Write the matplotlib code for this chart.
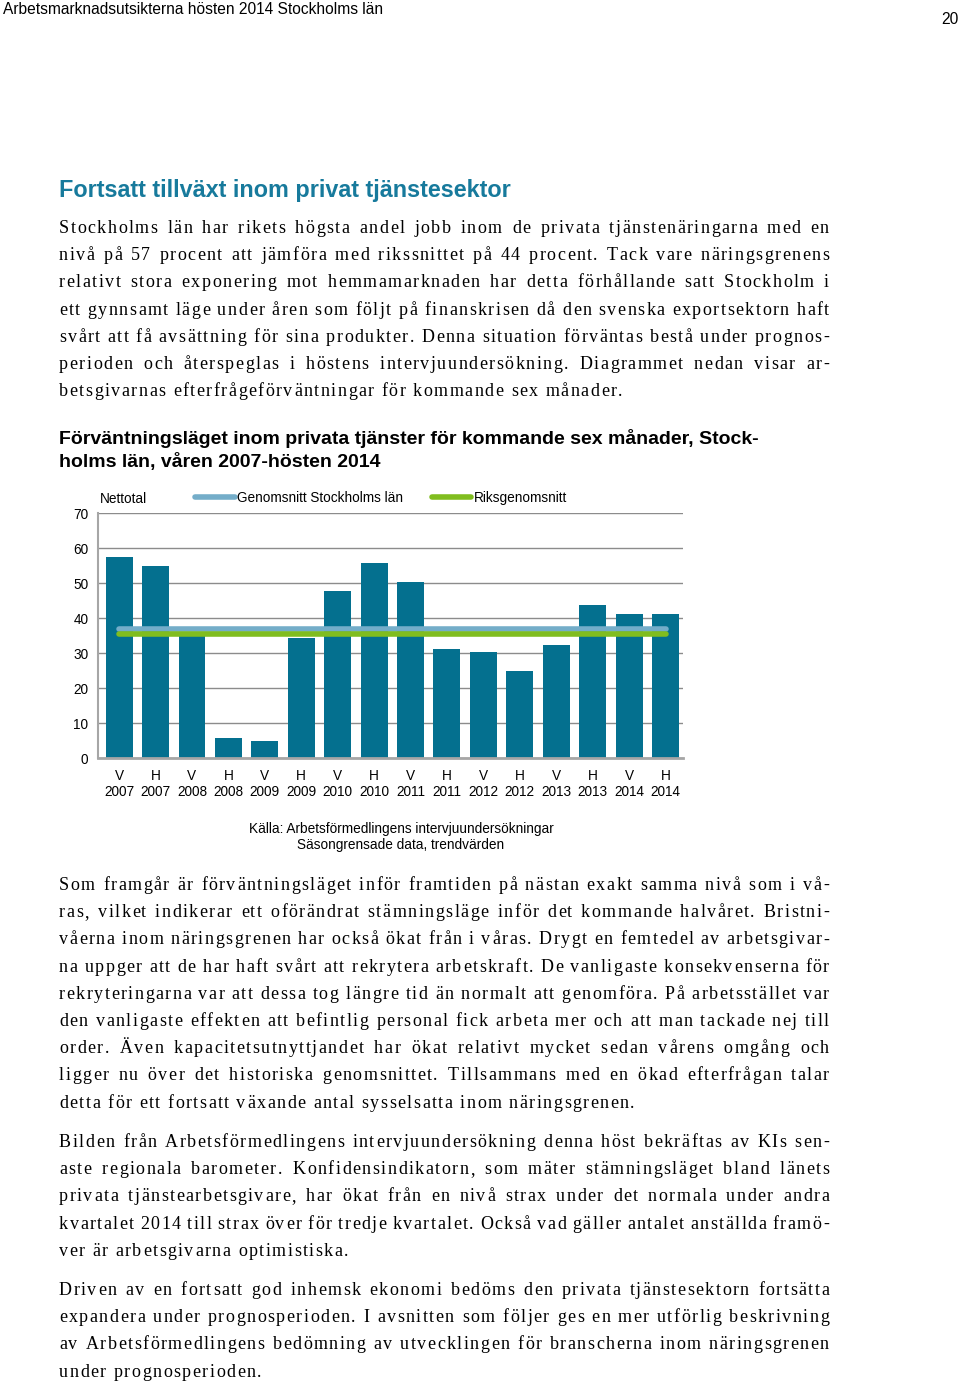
import matplotlib

matplotlib.use("Agg")
import matplotlib.pyplot as plt
from matplotlib import font_manager
from matplotlib.ft2font import FT2Font

W, H = 960, 1382

# chart data
halvar = ["V", "H"] * 8
ar = [str(y) for y in range(2007, 2015) for _ in range(2)]
nettotal = [57.5, 54.9, 36.0, 5.8, 4.8, 34.4, 47.6, 55.8,
            50.4, 31.1, 30.3, 24.9, 32.3, 43.7, 41.2, 41.2]
snitt_sthlm = 36.9
snitt_riket = 35.4

header = "Arbetsmarknadsutsikterna hösten 2014 Stockholms län"
page_no = "20"
heading = "Fortsatt tillväxt inom privat tjänstesektor"
chart_title = [
    "Förväntningsläget inom privata tjänster för kommande sex månader, Stock-",
    "holms län, våren 2007-hösten 2014",
]
source = ["Källa: Arbetsförmedlingens intervjuundersökningar",
          "Säsongrensade data, trendvärden"]

para1 = [
    "Stockholms län har rikets högsta andel jobb inom de privata tjänstenäringarna med en",
    "nivå på 57 procent att jämföra med rikssnittet på 44 procent. Tack vare näringsgrenens",
    "relativt stora exponering mot hemmamarknaden har detta förhållande satt Stockholm i",
    "ett gynnsamt läge under åren som följt på finanskrisen då den svenska exportsektorn haft",
    "svårt att få avsättning för sina produkter. Denna situation förväntas bestå under prognos-",
    "perioden och återspeglas i höstens intervjuundersökning. Diagrammet nedan visar ar-",
    "betsgivarnas efterfrågeförväntningar för kommande sex månader.",
]
para2 = [
    "Som framgår är förväntningsläget inför framtiden på nästan exakt samma nivå som i vå-",
    "ras, vilket indikerar ett oförändrat stämningsläge inför det kommande halvåret. Bristni-",
    "våerna inom näringsgrenen har också ökat från i våras. Drygt en femtedel av arbetsgivar-",
    "na uppger att de har haft svårt att rekrytera arbetskraft. De vanligaste konsekvenserna för",
    "rekryteringarna var att dessa tog längre tid än normalt att genomföra. På arbetsstället var",
    "den vanligaste effekten att befintlig personal fick arbeta mer och att man tackade nej till",
    "order. Även kapacitetsutnyttjandet har ökat relativt mycket sedan vårens omgång och",
    "ligger nu över det historiska genomsnittet. Tillsammans med en ökad efterfrågan talar",
    "detta för ett fortsatt växande antal sysselsatta inom näringsgrenen.",
]
para3 = [
    "Bilden från Arbetsförmedlingens intervjuundersökning denna höst bekräftas av KIs sen-",
    "aste regionala barometer. Konfidensindikatorn, som mäter stämningsläget bland länets",
    "privata tjänstearbetsgivare, har ökat från en nivå strax under det normala under andra",
    "kvartalet 2014 till strax över för tredje kvartalet. Också vad gäller antalet anställda framö-",
    "ver är arbetsgivarna optimistiska.",
]
para4 = [
    "Driven av en fortsatt god inhemsk ekonomi bedöms den privata tjänstesektorn fortsätta",
    "expandera under prognosperioden. I avsnitten som följer ges en mer utförlig beskrivning",
    "av Arbetsförmedlingens bedömning av utvecklingen för branscherna inom näringsgrenen",
    "under prognosperioden.",
]

BAR = "#04708f"
STHLM = "#74adc9"
RIKS = "#80bd1f"
BLUE_HEAD = "#177a9c"

fig = plt.figure(figsize=(W / 100, H / 100), dpi=100)


def fx(x):
    return x / W


def fy(y):
    return 1 - y / H


sans = ["Liberation Sans", "DejaVu Sans"]
serif = ["Liberation Serif", "DejaVu Serif"]

fig.text(fx(3), fy(9), header, family=sans, fontsize=11.2, va="center", ha="left")
fig.text(fx(959), fy(19), page_no, family=sans, fontsize=11.2, va="center", ha="right")
fig.text(fx(59), fy(191), heading, family=sans, fontsize=16.8, weight="bold",
         color=BLUE_HEAD, va="center", ha="left")
for i, line in enumerate(chart_title):
    fig.text(fx(59), fy(439 + 23 * i), line, family=sans, fontsize=14,
             weight="bold", va="center", ha="left")
for i, line in enumerate(source):
    fig.text(fx(401), fy(829 + 16 * i), line, family=sans, fontsize=9.8,
             va="center", ha="center")

# body text: letter-spaced, justified serif like the report
BODY_SIZE = 13
TRACK = 1.5
font = FT2Font(font_manager.findfont(font_manager.FontProperties(family=serif)))
font.set_size(BODY_SIZE, 100)
advances = {}


def adv(c):
    if c not in advances:
        advances[c] = font.load_char(ord(c)).linearHoriAdvance / 65536
    return advances[c]


def word_width(w):
    return sum(adv(c) for c in w) + TRACK * (len(w) - 1)


def paragraph(lines, y0, x0=59, x1=829, step=27.2):
    sw = adv(" ") + 2 * TRACK
    for i, line in enumerate(lines):
        y = fy(y0 + step * i)
        words = line.split(" ")
        widths = [word_width(w) for w in words]
        if i == len(lines) - 1 or len(words) == 1:
            gap = sw
        else:
            gap = (x1 - x0 - sum(widths)) / (len(words) - 1)
        x = x0
        for w, ww in zip(words, widths):
            cx = x
            for c in w:
                fig.text(fx(cx), y, c, family=serif, fontsize=BODY_SIZE,
                         va="baseline", ha="left")
                cx += adv(c) + TRACK
            x += ww + gap


paragraph(para1, 233)
paragraph(para2, 890)
paragraph(para3, 1147)
paragraph(para4, 1295)

# chart
ax = fig.add_axes([fx(98), fy(758), fx(683) - fx(98), fy(513) - fy(758)])
x = list(range(len(nettotal)))
ax.bar(x, nettotal, width=0.74, color=BAR, zorder=2)
l1, = ax.plot([0, 15], [snitt_sthlm] * 2, color=STHLM, lw=4, zorder=3,
              solid_capstyle="round", label="Genomsnitt Stockholms län")
l2, = ax.plot([0, 15], [snitt_riket] * 2, color=RIKS, lw=4, zorder=3,
              solid_capstyle="round", label="Riksgenomsnitt")
ax.set_xlim(-0.58, 15.48)
ax.set_ylim(0, 70)
ax.set_yticks(range(0, 71, 10))
ax.set_xticks(x)
ax.set_xticklabels([f"{h}\n{a}" for h, a in zip(halvar, ar)], linespacing=1.15)
ax.tick_params(length=0, labelsize=9.8)
ax.tick_params(axis="x", pad=8)
ax.tick_params(axis="y", pad=7)
for lab in ax.get_xticklabels() + ax.get_yticklabels():
    lab.set_family(sans)
ax.grid(axis="y", color="#8c8c8c", lw=1, zorder=0)
ax.set_axisbelow(True)
for s in ["top", "right"]:
    ax.spines[s].set_visible(False)
ax.spines["left"].set_color("#a6a6a6")
ax.spines["left"].set_linewidth(1.5)
ax.spines["bottom"].set_color("#a6a6a6")
ax.spines["bottom"].set_linewidth(2)

ax.text(0.003, 1.058, "Nettotal", transform=ax.transAxes, family=sans,
        fontsize=9.8, va="center", ha="left")
ax.legend(handles=[l1, l2], ncol=2, loc="center left",
          bbox_to_anchor=(0.166, 1.062), frameon=False, borderpad=0,
          borderaxespad=0, handlelength=2.9, handletextpad=0.2,
          columnspacing=2.1, prop={"family": sans, "size": 9.8})

fig.savefig("out.png", dpi=100)
